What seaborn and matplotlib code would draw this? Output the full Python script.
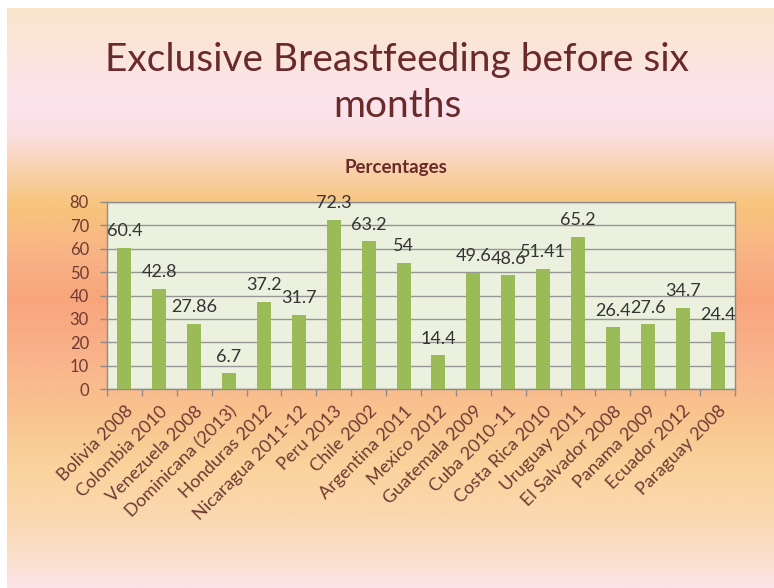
import numpy as np
import pandas as pd
import matplotlib
matplotlib.use("Agg")
import matplotlib.pyplot as plt
import seaborn as sns
from matplotlib.colors import LinearSegmentedColormap

# ---- data ----
countries = ["Bolivia 2008", "Colombia 2010", "Venezuela 2008", "Dominicana (2013)",
             "Honduras 2012", "Nicaragua 2011-12", "Peru 2013", "Chile 2002",
             "Argentina 2011", "Mexico 2012", "Guatemala 2009", "Cuba 2010-11",
             "Costa Rica 2010", "Uruguay 2011", "El Salvador 2008", "Panama 2009",
             "Ecuador 2012", "Paraguay 2008"]
values = [60.4, 42.8, 27.86, 6.7, 37.2, 31.7, 72.3, 63.2, 54, 14.4,
          49.6, 48.6, 51.41, 65.2, 26.4, 27.6, 34.7, 24.4]
value_labels = ["60.4", "42.8", "27.86", "6.7", "37.2", "31.7", "72.3", "63.2", "54",
                "14.4", "49.6", "48.6", "51.41", "65.2", "26.4", "27.6", "34.7", "24.4"]
y_ticks = [0, 10, 20, 30, 40, 50, 60, 70, 80]
title = "Exclusive Breastfeeding before six\nmonths"
subtitle = "Percentages"

sns.set_theme(style="white")
plt.rcParams['font.family'] = ['Lato', 'DejaVu Sans']

W, H = 774, 588
fig = plt.figure(figsize=(W / 100, H / 100), dpi=100)
fig.patch.set_facecolor('white')

# background gradient (slide)
stops = [(0.00, '#F9E6CC'), (0.09, '#FBE4DE'), (0.16, '#FCE3EE'), (0.22, '#FBDFE0'),
         (0.27, '#F9D3B2'), (0.34, '#F8C47C'), (0.42, '#F8B486'), (0.50, '#F8A57C'),
         (0.60, '#F9B28A'), (0.71, '#F9C590'), (0.79, '#FAD39C'), (0.88, '#FAD8B0'),
         (0.95, '#FBDFCC'), (1.00, '#FCE3E6')]
cmap = LinearSegmentedColormap.from_list('bg', stops)
grad = np.linspace(0, 1, 600).reshape(-1, 1)
bg = fig.add_axes([7 / W, 0, 1 - 7 / W, 1 - 8 / H], zorder=-10)
bg.imshow(grad, aspect='auto', cmap=cmap, extent=[0, 1, 0, 1], origin='upper')
bg.axis('off')

# chart axes
L, R, T, B = 107, 735, 202, 389
ax = fig.add_axes([L / W, 1 - B / H, (R - L) / W, (B - T) / H])
ax.set_facecolor('#EBF1DE')
df = pd.DataFrame({'country': countries, 'value': values})
sns.barplot(data=df, x='country', y='value', color='#9BBB59', saturation=1,
            width=0.4, ax=ax, zorder=3, edgecolor='none', linewidth=0)

ax.set_ylim(0, 80)
ax.set_xlim(-0.5, len(countries) - 0.5)
ax.set_yticks(y_ticks)
ax.yaxis.grid(True, color='#969696', linewidth=1.0, zorder=0)
ax.set_axisbelow(True)
ax.set_xlabel('')
ax.set_ylabel('')

lab_col = '#6E3B33'
ax.set_yticklabels([str(t) for t in y_ticks], fontsize=12, color=lab_col)
ax.set_xticks(range(len(countries)))
ax.set_xticklabels(countries, rotation=45, ha='right', rotation_mode='anchor',
                   fontsize=13, color=lab_col)
ax.tick_params(axis='x', which='major', length=0, pad=10)
ax.set_xticks(np.arange(-0.5, len(countries), 1.0), minor=True)
ax.tick_params(axis='x', which='minor', length=5, color='#8C8C8C', width=1, direction='out', bottom=True)
ax.tick_params(axis='y', length=5, color='#8C8C8C', width=1, direction='out', left=True, pad=8)
for s in ax.spines.values():
    s.set_color('#8C8C8C')
    s.set_linewidth(1.0)

for p, lab in zip(ax.patches, value_labels):
    ax.annotate(lab, (p.get_x() + p.get_width() / 2, p.get_height()),
                xytext=(0, 12), textcoords='offset points', ha='center', va='center',
                fontsize=13, color='#333333', annotation_clip=False, zorder=5)

fig.text(397 / W, 1 - 60 / H, title.split('\n')[0], ha='center', va='center', fontsize=28,
         color='#6A2A2A')
fig.text(397 / W, 1 - 106 / H, title.split('\n')[1], ha='center', va='center', fontsize=28,
         color='#6A2A2A')
fig.text(396 / W, 1 - 168 / H, subtitle, ha='center', va='center', fontsize=13.5,
         fontweight='bold', color='#6A2A2A')

fig.savefig('out.png', dpi=100)
